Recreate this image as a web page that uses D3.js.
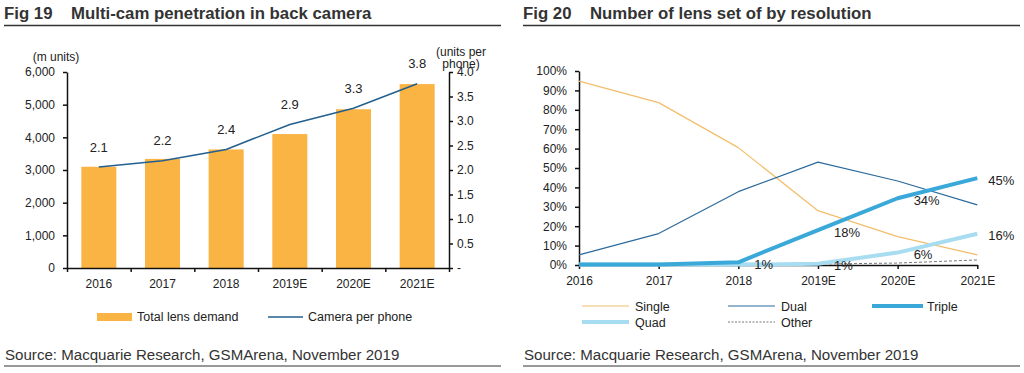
<!DOCTYPE html>
<html><head><meta charset="utf-8">
<script src="https://cdn.jsdelivr.net/npm/d3@7"></script>
<style>
html,body{margin:0;padding:0;background:#fff;}
svg text{font-family:"Liberation Sans",Arial,sans-serif;fill:#222;}
</style></head>
<body>
<svg id="c" width="1024" height="373"></svg>
<script>
// ---------- Data: Fig 19 ----------
const years19 = ["2016","2017","2018","2019E","2020E","2021E"];
const lensDemand = [3100, 3340, 3630, 4100, 4860, 5630];      // m units
const cameraPerPhone = [2.06, 2.19, 2.42, 2.93, 3.26, 3.76];   // units per phone
const leftTicks = [0,1000,2000,3000,4000,5000,6000];
const rightTicks = [0,0.5,1,1.5,2,2.5,3,3.5,4];

// ---------- Data: Fig 20 ----------
const years20 = ["2016","2017","2018","2019E","2020E","2021E"];
const single = [94.8, 83.7, 60.5, 28.0, 14.6, 5.2];
const dual   = [5.2, 16.2, 37.8, 53.0, 43.3, 31.0];
const triple = [0.2, 0.2, 1.4, 18.0, 34.4, 44.8];
const quad   = [0.2, 0.2, 0.2, 0.6, 6.4, 16.1];
const other  = [0.5, 0.5, 0.5, 0.5, 1.0, 2.6];
const pctTicks = [0,10,20,30,40,50,60,70,80,90,100];
const tripleLabelIdx = [2,3,4,5];
const quadLabelIdx = [3,4,5];

const svg = d3.select("#c");
const font = '"Liberation Sans",Arial,sans-serif';

function header(g, x0, x1, fig, title){
  g.append("text").attr("x", x0).attr("y", 19).attr("font-size", 16.8).attr("font-weight", "bold")
    .style("fill", "#333").text(fig);
  g.append("text").attr("x", x0 + 67).attr("y", 19).attr("font-size", 16.8).attr("font-weight", "bold")
    .style("fill", "#333").text(title);
  g.append("line").attr("x1", x0).attr("x2", x1).attr("y1", 25.5).attr("y2", 25.5)
    .attr("stroke", "#333").attr("stroke-width", 1.5);
  g.append("text").attr("x", x0 + 1).attr("y", 360).attr("font-size", 15.1)
    .style("fill", "#333").text("Source: Macquarie Research, GSMArena, November 2019");
  g.append("line").attr("x1", x0).attr("x2", x1).attr("y1", 366).attr("y2", 366)
    .attr("stroke", "#333").attr("stroke-width", 1);
}

function styleAxis(sel){
  sel.selectAll("path.domain").attr("stroke", "#111").attr("stroke-width", 1.5);
  sel.selectAll(".tick line").attr("stroke", "#111").attr("stroke-width", 1.5);
  sel.selectAll(".tick text").attr("font-size", 12).attr("font-family", font).style("fill", "#222");
}

// ================= Fig 19 =================
{
  const g = svg.append("g");
  header(g, 4, 501, "Fig 19", "Multi-cam penetration in back camera");

  const L = 67, R = 449, T = 72, B = 268;
  const x = d3.scaleBand().domain(years19).range([L, R]).paddingInner(0.45).paddingOuter(0.225);
  const yL = d3.scaleLinear().domain([0, 6000]).range([B, T]);
  const yR = d3.scaleLinear().domain([0, 4]).range([B, T]);

  g.selectAll("rect.bar").data(lensDemand).join("rect").attr("class", "bar")
    .attr("x", (d, i) => x(years19[i])).attr("width", x.bandwidth())
    .attr("y", d => yL(d)).attr("height", d => B - yL(d)).attr("fill", "#FAB443");

  const axL = g.append("g").attr("transform", `translate(${L},0)`)
    .call(d3.axisLeft(yL).tickValues(leftTicks).tickFormat(d3.format(",")).tickSize(4).tickSizeOuter(0).tickPadding(8));
  styleAxis(axL);
  const axR = g.append("g").attr("transform", `translate(${R},0)`)
    .call(d3.axisRight(yR).tickValues(rightTicks).tickFormat(d => d === 0 ? "-" : d.toFixed(1)).tickSize(4).tickSizeOuter(0).tickPadding(4));
  styleAxis(axR);

  // x axis with boundary ticks
  const step = x.step();
  const bounds = d3.range(years19.length + 1).map(i => x.range()[0] + i * step);
  const axX = g.append("g").attr("transform", `translate(0,${B})`)
    .call(d3.axisBottom(d3.scaleLinear().domain([L, R]).range([L, R])).tickValues(bounds).tickFormat("").tickSize(4).tickSizeOuter(0));
  styleAxis(axX);
  g.selectAll("text.xl").data(years19).join("text").attr("class", "xl")
    .attr("x", d => x(d) + x.bandwidth() / 2).attr("y", B + 20).attr("text-anchor", "middle")
    .attr("font-size", 12).text(d => d);

  const line = d3.line().x((d, i) => x(years19[i]) + x.bandwidth() / 2).y(d => yR(d));
  g.append("path").datum(cameraPerPhone).attr("d", line).attr("fill", "none")
    .attr("stroke", "#23608F").attr("stroke-width", 1.6);
  g.selectAll("text.vl").data(cameraPerPhone).join("text").attr("class", "vl")
    .attr("x", (d, i) => x(years19[i]) + x.bandwidth() / 2).attr("y", d => yR(d) - 20)
    .attr("dy", "0.35em").attr("text-anchor", "middle").attr("font-size", 13).text(d => d.toFixed(1));

  g.append("text").attr("x", 56).attr("y", 61).attr("text-anchor", "middle").attr("font-size", 12).text("(m units)");
  g.append("text").attr("x", 461).attr("y", 56).attr("text-anchor", "middle").attr("font-size", 12).text("(units per");
  g.append("text").attr("x", 461).attr("y", 68).attr("text-anchor", "middle").attr("font-size", 12).text("phone)");

  // legend
  g.append("rect").attr("x", 97).attr("y", 313).attr("width", 35).attr("height", 8).attr("fill", "#FAB443");
  g.append("text").attr("x", 137).attr("y", 321).attr("font-size", 12.5).text("Total lens demand");
  g.append("line").attr("x1", 268).attr("x2", 303).attr("y1", 317).attr("y2", 317).attr("stroke", "#23608F").attr("stroke-width", 1.6);
  g.append("text").attr("x", 308).attr("y", 321).attr("font-size", 12.5).text("Camera per phone");
}

// ================= Fig 20 =================
{
  const g = svg.append("g");
  header(g, 523, 1020, "Fig 20", "Number of lens set of by resolution");

  const L = 579, R = 977.3, T = 71, B = 265;
  const x = d3.scalePoint().domain(years20).range([L, R]);
  const y = d3.scaleLinear().domain([0, 100]).range([B, T]);

  const axY = g.append("g").attr("transform", `translate(${L},0)`)
    .call(d3.axisLeft(y).tickValues(pctTicks).tickFormat(d => d + "%").tickSize(4).tickSizeOuter(0).tickPadding(8));
  styleAxis(axY);
  const axX = g.append("g").attr("transform", `translate(0,${B})`)
    .call(d3.axisBottom(x).tickSize(4).tickSizeOuter(0).tickPadding(7));
  styleAxis(axX);

  const series = [
    {name: "Single", v: single, c: "#F2BE6A", w: 1.2, dash: null},
    {name: "Dual",   v: dual,   c: "#2D6A9B", w: 1.2, dash: null},
    {name: "Other",  v: other,  c: "#777",    w: 1,   dash: "3,2"},
    {name: "Quad",   v: quad,   c: "#A8DDF1", w: 4,   dash: null},
    {name: "Triple", v: triple, c: "#3AA9D9", w: 4,   dash: null}
  ];
  const line = d3.line().x((d, i) => x(years20[i])).y(d => y(d));
  g.selectAll("path.s").data(series).join("path").attr("class", "s")
    .attr("d", s => line(s.v)).attr("fill", "none").attr("stroke", s => s.c)
    .attr("stroke-width", s => s.w).attr("stroke-dasharray", s => s.dash)
    .attr("stroke-linejoin", "round");

  function labels(vals, idx){
    g.selectAll(null).data(idx).join("text")
      .attr("x", i => x(years20[i]) + (i === years20.length - 1 ? 11 : 16))
      .attr("y", i => y(vals[i]) + 2).attr("dy", "0.35em").attr("font-size", 13)
      .text(i => Math.round(vals[i]) + "%");
  }
  labels(triple, tripleLabelIdx);
  labels(quad, quadLabelIdx);

  // legend
  const leg = [
    {name: "Single", x: 582, y: 306, c: "#F2BE6A", w: 1.2, dash: null},
    {name: "Dual",   x: 728, y: 306, c: "#2D6A9B", w: 1.2, dash: null},
    {name: "Triple", x: 872, y: 306, c: "#3AA9D9", w: 4,   dash: null},
    {name: "Quad",   x: 582, y: 322, c: "#A8DDF1", w: 4,   dash: null},
    {name: "Other",  x: 728, y: 322, c: "#777",    w: 1,   dash: "2,1.5"}
  ];
  const lg = g.selectAll("g.lg").data(leg).join("g").attr("class", "lg");
  lg.append("line").attr("x1", d => d.x).attr("x2", d => d.x + (d.name === "Triple" ? 51 : 47))
    .attr("y1", d => d.y).attr("y2", d => d.y).attr("stroke", d => d.c).attr("stroke-width", d => d.w)
    .attr("stroke-dasharray", d => d.dash);
  lg.append("text").attr("x", d => d.x + (d.name === "Triple" ? 55 : 53)).attr("y", d => d.y + 4.5)
    .attr("font-size", 12.5).text(d => d.name);
}
</script>
</body></html>
